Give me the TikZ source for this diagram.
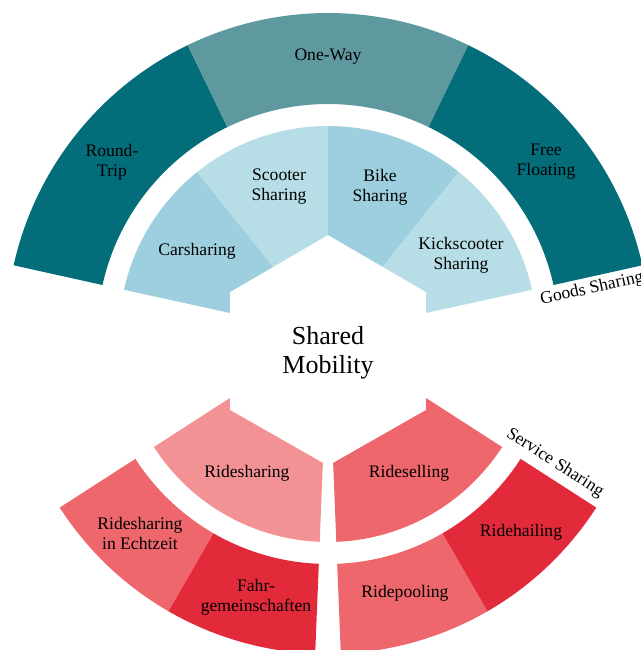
\documentclass[tikz,border=0pt]{standalone}
\usepackage{fontspec}
\setmainfont{Liberation Serif}
\usetikzlibrary{positioning}

\definecolor{tealdark}{HTML}{036E7A}
\definecolor{tealmid}{HTML}{5E99A0}
\definecolor{bluemid}{HTML}{9ECFDE}
\definecolor{bluelight}{HTML}{B7DDE6}
\definecolor{redpale}{HTML}{F39294}
\definecolor{redsoft}{HTML}{EE676D}
\definecolor{redstrong}{HTML}{E32A3A}

\tikzset{
  seglabel/.style={font=\fontsize{17.6bp}{20bp}\selectfont, align=center, text=black, inner sep=0pt},
  grouplabel/.style={font=\fontsize{17.6bp}{20bp}\selectfont, text=black, inner sep=0pt},
  titlelabel/.style={font=\fontsize{26bp}{29bp}\selectfont, align=center, text=black, inner sep=0pt}
}

\begin{document}
\begin{tikzpicture}[x=1bp,y=1bp]
\useasboundingbox (-328,-315) rectangle (313,335);
\clip (-328,-315) rectangle (313,335);

% goods sharing, outer ring
\fill[tealdark] (167.5:322) arc[start angle=167.5,end angle=115.83,radius=322] -- (115.83:231) arc[start angle=115.83,end angle=167.5,radius=231] -- cycle;
\fill[tealmid] (115.83:322) arc[start angle=115.83,end angle=64.17,radius=322] -- (64.17:231) arc[start angle=64.17,end angle=115.83,radius=231] -- cycle;
\fill[tealdark] (64.17:322) arc[start angle=64.17,end angle=12.5,radius=322] -- (12.5:231) arc[start angle=12.5,end angle=64.17,radius=231] -- cycle;

% goods sharing, inner ring
\fill[bluemid] (-98,22) -- (167.5:209) arc[start angle=167.5,end angle=128.75,radius=209] -- (-54.7,68.2) -- (-98,43) -- cycle;
\fill[bluelight] (-54.7,68.2) -- (128.75:209) arc[start angle=128.75,end angle=90,radius=209] -- (0,100) -- cycle;
\fill[bluemid] (0,100) -- (90:209) arc[start angle=90,end angle=51.25,radius=209] -- (54.7,68.2) -- cycle;
\fill[bluelight] (54.7,68.2) -- (51.25:209) arc[start angle=51.25,end angle=12.5,radius=209] -- (98,22) -- (98,43) -- cycle;

% service sharing, inner ring
\fill[redpale] (-98,-63) -- (212.75:207) arc[start angle=212.75,end angle=267.7,radius=207] -- (267.7:128) -- (-98,-75) -- cycle;
\fill[redsoft] (98,-63) -- (327.25:207) arc[start angle=327.25,end angle=272.3,radius=207] -- (272.3:128) -- (98,-75) -- cycle;

% service sharing, outer ring
\fill[redsoft] (212.75:319) arc[start angle=212.75,end angle=240,radius=319] -- (240:229) arc[start angle=240,end angle=212.75,radius=229] -- cycle;
\fill[redstrong] (240:319) arc[start angle=240,end angle=267.7,radius=319] -- (267.7:229) arc[start angle=267.7,end angle=240,radius=229] -- cycle;
\fill[redsoft] (272.3:319) arc[start angle=272.3,end angle=300,radius=319] -- (300:229) arc[start angle=300,end angle=272.3,radius=229] -- cycle;
\fill[redstrong] (300:319) arc[start angle=300,end angle=327.25,radius=319] -- (327.25:229) arc[start angle=327.25,end angle=300,radius=229] -- cycle;

% labels
\node[seglabel] (roundtrip) at (-216,173) {Round-\\Trip};
\node[seglabel] (oneway) at (0,278) {One-Way};
\node[seglabel] (freefloat) at (218,173) {Free\\Floating};
\node[seglabel] (carsharing) at (-131,84) {Carsharing};
\node[seglabel] (scooter) at (-49,148) {Scooter\\Sharing};
\node[seglabel] (bike) at (52,148) {Bike\\Sharing};
\node[seglabel] (kickscooter) at (133,80) {Kickscooter\\Sharing};

\node[titlelabel] (center) at (0,-18) {Shared\\Mobility};

\node[seglabel] (ridesharing) at (-81,-138) {Ridesharing};
\node[seglabel] (rideselling) at (81,-138) {Rideselling};
\node[seglabel] (echtzeit) at (-188,-198) {Ridesharing\\in Echtzeit};
\node[seglabel] (fahrgem) at (-72,-262) {Fahr-\\gemeinschaften};
\node[seglabel] (ridepooling) at (77,-258) {Ridepooling};
\node[seglabel] (ridehailing) at (193,-197) {Ridehailing};

\node[grouplabel,rotate=12.5] (goods) at (264,46) {Goods Sharing};
\node[grouplabel,rotate=-32.75] (service) at (227,-128) {Service Sharing};

\end{tikzpicture}
\end{document}
